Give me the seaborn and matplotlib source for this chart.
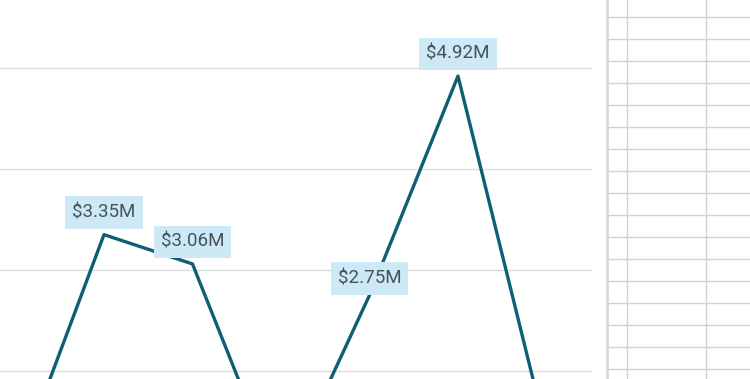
import numpy as np
import pandas as pd
import matplotlib
matplotlib.use("Agg")
import matplotlib.pyplot as plt
import seaborn as sns

# monthly revenue, in $M (only part of the chart is visible in the crop)
months = ["Jan", "Feb", "Mar", "Apr", "May", "Jun", "Jul"]
revenue = [1.01, 3.35, 3.06, 0.86, 2.75, 4.92, 1.38]

line_color = "#0e5f73"
label_bg = "#cde9f5"
text_color = "#46525c"
grid_color = "#dcdcdc"

sns.set_theme(style="white")
plt.rcParams["font.family"] = ["Roboto", "DejaVu Sans"]

df = pd.DataFrame({"month": months, "revenue": revenue})

fig = plt.figure(figsize=(7.5, 3.79), dpi=100)
ax = fig.add_axes([0, 0, 592 / 750, 1])

sns.lineplot(data=df, x="month", y="revenue", ax=ax, color=line_color,
             linewidth=2.4, sort=False)

# value labels above the points that are inside the view
for i, v in enumerate(revenue):
    if v < 2:
        continue
    dy = 12 if v < 3 else 16
    ax.annotate(f"${v:.2f}M", (i, v), xytext=(0, dy), textcoords="offset points",
                ha="center", va="center", fontsize=13.5, color=text_color,
                bbox=dict(boxstyle="square,pad=0.38", fc=label_bg, ec="none"),
                zorder=5)

ax.set_xlim(-0.175, 6.514)
ax.set_ylim(1.921, 5.673)
ax.set_yticks([2, 3, 4, 5])
ax.yaxis.grid(True, color=grid_color, linewidth=1)
ax.set_xticks([])
ax.set_yticklabels([])
ax.tick_params(length=0)
ax.set_xlabel("")
ax.set_ylabel("")
for s in ax.spines.values():
    s.set_visible(False)

# spreadsheet cells to the right of the chart
sheet = fig.add_axes([607 / 750, 0, 143 / 750, 1])
sheet.set_xlim(0, 143)
sheet.set_ylim(379, 0)
sheet.set_xticks([20, 99])
sheet.set_yticks(np.arange(17, 379, 22))
sheet.grid(True, color="#d2d2d2", linewidth=1)
sheet.set_xticklabels([])
sheet.set_yticklabels([])
sheet.tick_params(length=0)
for name, s in sheet.spines.items():
    s.set_visible(name == "left")
sheet.spines["left"].set_color("#d8d8d8")
sheet.spines["left"].set_linewidth(2)

fig.savefig("out.png", dpi=100)
